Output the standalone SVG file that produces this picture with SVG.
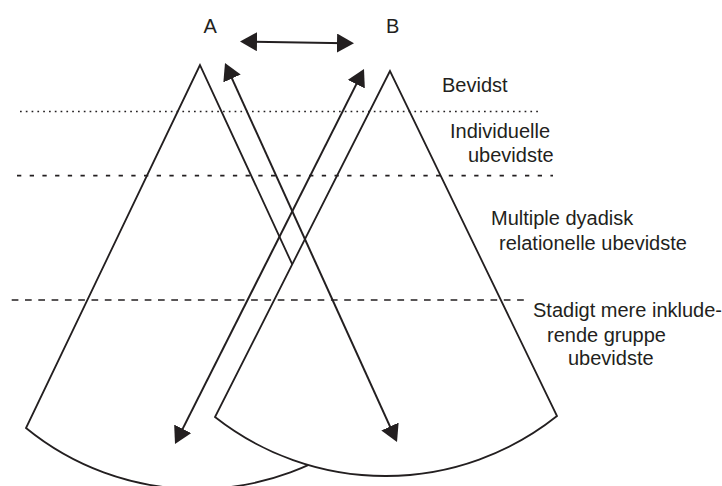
<svg xmlns="http://www.w3.org/2000/svg" width="722" height="486" viewBox="0 0 722 486">
<style>
  .fan { fill: #ffffff; stroke: #231f20; stroke-width: 1.8; stroke-linejoin: miter; }
  .lvl { fill: none; stroke: #231f20; stroke-width: 1.7; }
  .arr { fill: none; stroke: #231f20; stroke-width: 2; marker-start: url(#head); marker-end: url(#head); }
  text { font-family: "Liberation Sans", Arial, sans-serif; font-size: 20px; fill: #231f20; }
</style>
<defs>
  <marker id="head" viewBox="0 0 17 19" refX="9" refY="9.5" markerWidth="17" markerHeight="19" markerUnits="userSpaceOnUse" orient="auto-start-reverse">
    <path d="M0,0 L17,9.5 L0,19 Z" fill="#231f20"/>
  </marker>
</defs>
<rect width="722" height="486" fill="#ffffff"/>

<g id="cone-A">
  <path class="fan" d="M200,65 L26,428 A270,270 0 0 0 368,428 Z"/>
  <text x="203.5" y="33">A</text>
</g>
<g id="cone-B">
  <path class="fan" d="M390,71 L215,417 A275.5,275.5 0 0 0 557,416 Z"/>
  <text x="386" y="33">B</text>
</g>

<g id="levels">
  <line class="lvl" x1="20" y1="111.5" x2="540" y2="111.5" stroke-dasharray="1.7 4.1"/>
  <line class="lvl" x1="17" y1="175.7" x2="553" y2="175.7" stroke-dasharray="4.3 8.4"/>
  <line class="lvl" x1="11.7" y1="300" x2="524" y2="300" stroke-dasharray="6.7 6.6"/>
</g>

<g id="labels">
  <text x="442" y="92">Bevidst</text>
  <text x="450" y="138">Individuelle</text>
  <text x="468" y="162">ubevidste</text>
  <text x="491" y="225">Multiple dyadisk</text>
  <text x="499" y="250">relationelle ubevidste</text>
  <text x="533" y="317">Stadigt mere inklude-</text>
  <text x="547" y="341.5">rende gruppe</text>
  <text x="568" y="365">ubevidste</text>
</g>

<g id="connectors">
  <line class="arr" x1="248" y1="41.6" x2="346" y2="43.2"/>
  <line class="arr" x1="228.3" y1="70.3" x2="393.7" y2="434.7"/>
  <line class="arr" x1="360.4" y1="76.1" x2="178.6" y2="436.9"/>
</g>
</svg>
